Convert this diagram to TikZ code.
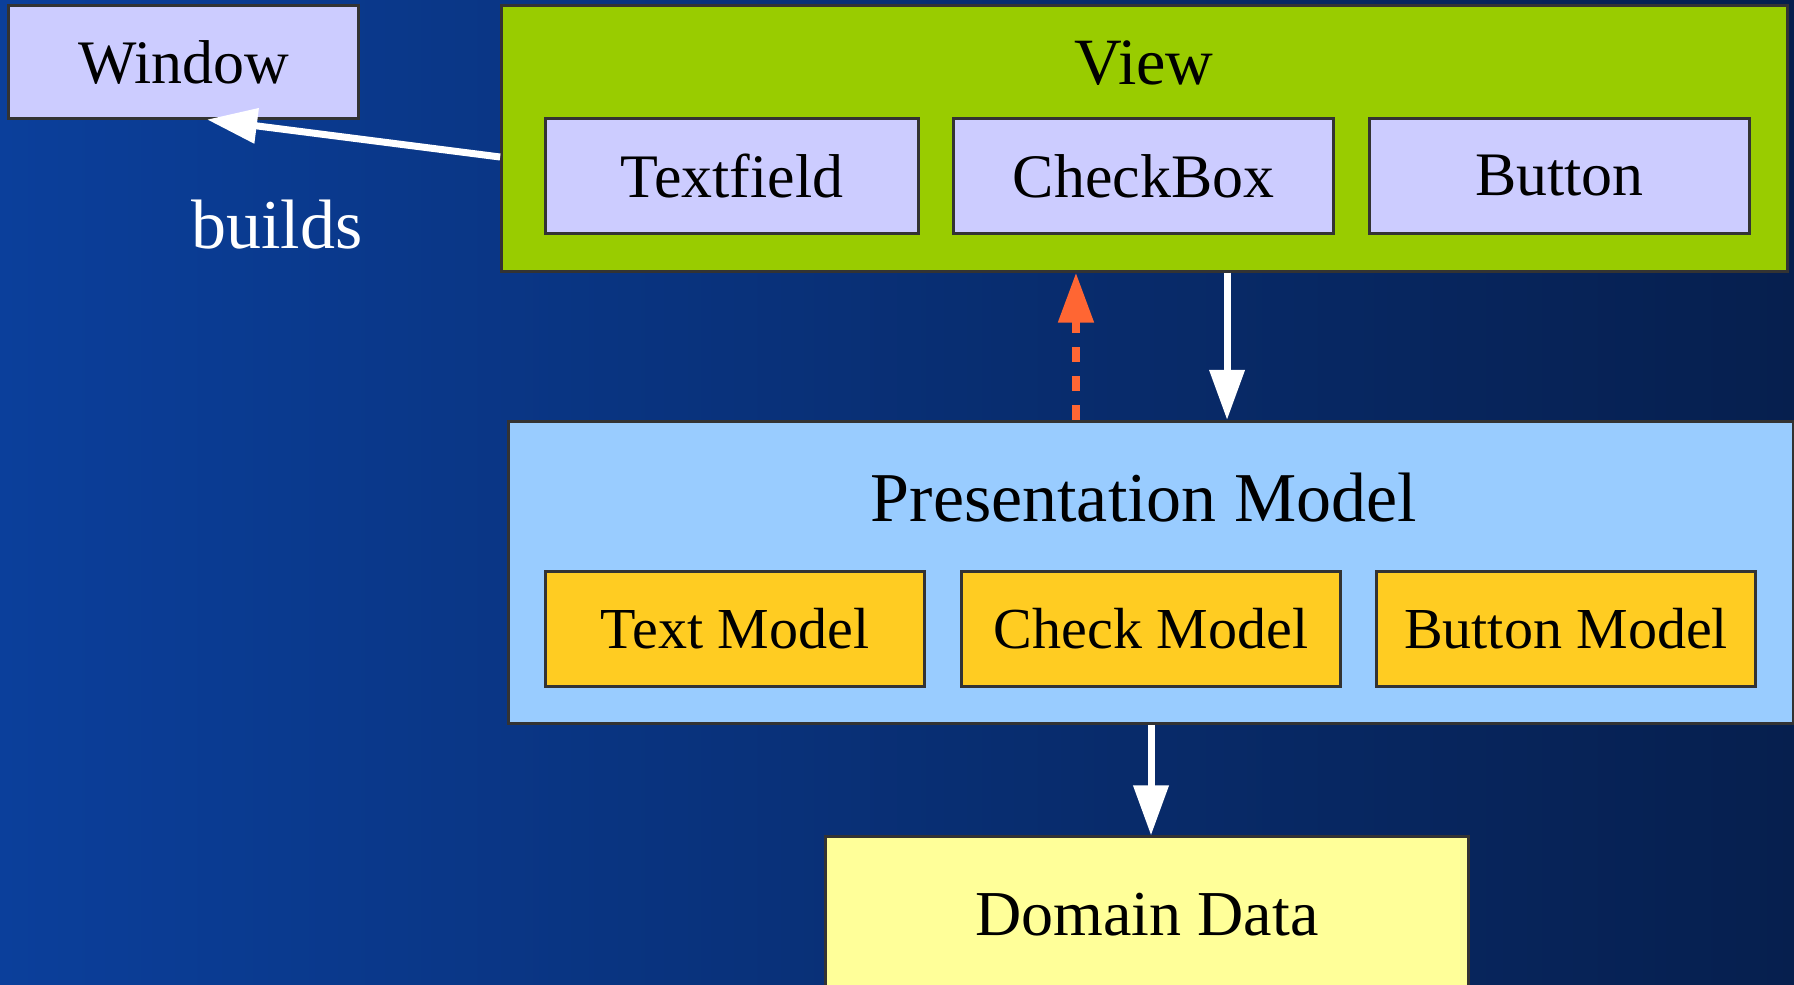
\documentclass[tikz,border=0pt]{standalone}
\usepackage{fontspec}
\setmainfont{Liberation Serif}
\usepackage{tikz}
\usetikzlibrary{arrows.meta,calc}
\definecolor{bgLeft}{RGB}{11,63,155}
\definecolor{bgRight}{RGB}{6,31,78}
\definecolor{frameGray}{RGB}{51,51,51}
\definecolor{widgetFill}{RGB}{204,204,255}
\definecolor{viewFill}{RGB}{153,204,0}
\definecolor{pmFill}{RGB}{153,204,255}
\definecolor{modelFill}{RGB}{255,204,34}
\definecolor{domainFill}{RGB}{255,255,153}
\definecolor{syncOrange}{RGB}{255,102,51}

\begin{document}
\begin{tikzpicture}
[x=0.01cm,y=-0.01cm,
box/.style={rectangle,draw=frameGray,line width=0.03cm,inner sep=0pt,text=black},
widget/.style={box,fill=widgetFill,minimum height=1.14cm,font=\fontsize{17.6}{20}\selectfont},
model/.style={box,fill=modelFill,minimum width=3.79cm,minimum height=1.14cm,font=\fontsize{16.5}{19}\selectfont},
container/.style={box,minimum width=12.85cm},
title/.style={inner sep=0pt,text=black},
flow/.style={draw=white,line width=0.07cm,-{Triangle[length=0.5cm,width=0.34cm]}},
sync/.style={draw=syncOrange,line width=0.08cm,dash pattern=on 0.15cm off 0.14cm,-{Triangle[length=0.5cm,width=0.34cm,fill=syncOrange]}},
]
\clip (0,0) rectangle (1794,985);
\shade[left color=bgLeft,right color=bgRight] (0,0) rectangle (1794,985);
\node[widget,minimum width=3.49cm,minimum height=1.12cm] (window) at (183.5,62) {Window};
\node[container,fill=viewFill,minimum height=2.65cm] (view) at (1144.5,138.5) {};
\node[title,font=\fontsize{18.8}{21}\selectfont] (viewTitle) at (1144,63) {View};
\node[widget,minimum width=3.72cm] (textfield) at (732,176) {Textfield};
\node[widget,minimum width=3.79cm] (checkbox) at (1143.5,176) {CheckBox};
\node[widget,minimum width=3.79cm] (button) at (1559.5,176) {Button};
\node[container,fill=pmFill,minimum height=3.02cm] (pm) at (1151,572.5) {};
\node[title,font=\fontsize{19.9}{22}\selectfont] (pmTitle) at (1144,498) {Presentation Model};
\node[model] (textModel) at (735,629) {Text Model};
\node[model] (checkModel) at (1151,629) {Check Model};
\node[model] (buttonModel) at (1566,629) {Button Model};
\node[box,fill=domainFill,minimum width=6.42cm,minimum height=1.56cm,font=\fontsize{18.2}{21}\selectfont] (domain) at (1147,915) {Domain Data};
\node[title,text=white,font=\fontsize{19.9}{22}\selectfont] (builds) at (277,225) {builds};
\draw[flow] ([yshift=-0.185cm]view.west) -- ([xshift=0.235cm]window.south);
\draw[flow] ([xshift=0.825cm]view.south) -- ([xshift=0.825cm]view.south |- pm.north);
\draw[sync] ([xshift=-0.75cm]pm.north) -- ([xshift=-0.75cm]pm.north |- view.south);
\draw[flow] (pm.south) -- (pm.south |- domain.north);
\end{tikzpicture}
\end{document}
